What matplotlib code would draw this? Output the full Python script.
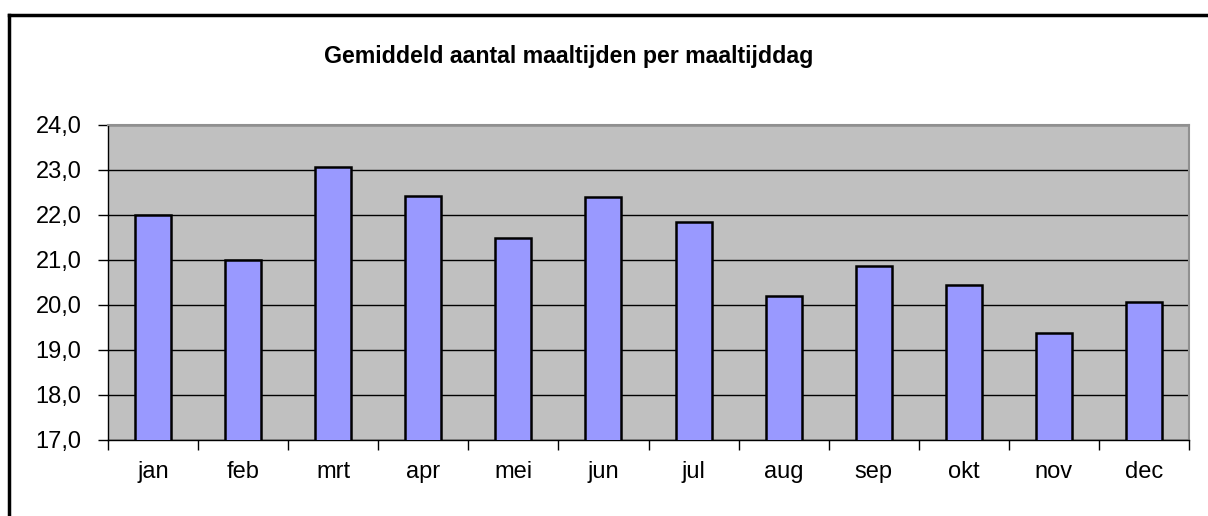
import numpy as np
import matplotlib.pyplot as plt
from matplotlib.lines import Line2D
from matplotlib.ticker import FuncFormatter, FixedLocator, NullFormatter

plt.rcParams['font.family'] = ['Liberation Sans', 'DejaVu Sans']

months = ['jan', 'feb', 'mrt', 'apr', 'mei', 'jun', 'jul', 'aug', 'sep', 'okt', 'nov', 'dec']
values = [22.0, 21.0, 23.06, 22.41, 21.48, 22.39, 21.83, 20.2, 20.86, 20.45, 19.38, 20.06]
title = 'Gemiddeld aantal maaltijden per maaltijddag'

fig = plt.figure(figsize=(12.08, 5.16), dpi=100)
ax = fig.add_axes([108/1208, 1 - 440/516, (1189 - 108)/1208, (440 - 124.7)/516])

x = np.arange(len(months))
ax.set_facecolor('#C0C0C0')
ax.bar(x, values, width=0.4, bottom=0, color='#9999FF', edgecolor='black', linewidth=1.8, zorder=3)

ax.set_xlim(-0.5, len(months) - 0.5)
ax.set_ylim(17, 24)
ax.set_yticks(np.arange(17, 24.5, 1))
ax.yaxis.set_major_formatter(FuncFormatter(lambda v, p: f'{v:.1f}'.replace('.', ',')))
ax.grid(axis='y', color='black', linewidth=1.0, zorder=1)
ax.set_axisbelow(True)

# category labels centred, tick marks between categories
ax.set_xticks(x)
ax.set_xticklabels(months)
ax.tick_params(axis='x', which='major', length=0, pad=15, labelsize=17)
ax.xaxis.set_minor_locator(FixedLocator(np.arange(-0.5, len(months), 1)))
ax.xaxis.set_minor_formatter(NullFormatter())
ax.tick_params(axis='x', which='minor', length=7, width=1, color='black', direction='out')
ax.tick_params(axis='y', length=7, width=1, pad=12, labelsize=17)

for s in ['left', 'bottom']:
    ax.spines[s].set_color('black')
    ax.spines[s].set_linewidth(1)
for s in ['top', 'right']:
    ax.spines[s].set_color('#909090')
    ax.spines[s].set_linewidth(1.5)

fig.text(569/1208, 1 - 56/516, title, ha='center', va='center', fontsize=16.7, fontweight='bold')

# outer chart frame (left and top edges visible)
fig.add_artist(Line2D([9/1208, 9/1208], [0, 1 - 15/516], color='black', linewidth=2.5, transform=fig.transFigure))
fig.add_artist(Line2D([9/1208, 1], [1 - 15/516, 1 - 15/516], color='black', linewidth=2.5, transform=fig.transFigure))

fig.savefig('out.png', dpi=100)
